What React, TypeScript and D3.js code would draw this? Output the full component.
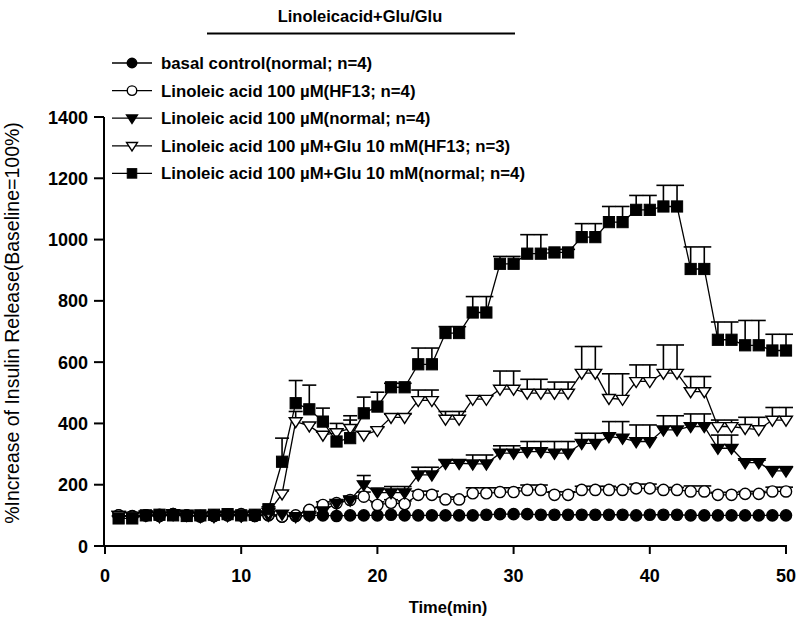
import React from 'react';
import { scaleLinear, line } from 'd3';

const W = 799;
const H = 623;
const m = { left: 105, right: 786, top: 117, bottom: 546 };

const minutes = [
  1, 2, 3, 4, 5, 6, 7, 8, 9, 10, 11, 12, 13, 14, 15, 16, 17, 18, 19, 20, 21, 22, 23, 24, 25,
  26, 27, 28, 29, 30, 31, 32, 33, 34, 35, 36, 37, 38, 39, 40, 41, 42, 43, 44, 45, 46, 47, 48, 49, 50,
];

// basal control (normal; n=4)
const basal = [
  100, 98, 100, 102, 104, 100, 98, 100, 102, 100, 98, 100,
  96, 98, 100, 100, 98, 100, 100, 100, 102, 100, 100, 100, 100, 100, 100, 102, 104, 104,
  104, 102, 102, 102, 102, 102, 102, 102, 100, 102, 102, 102, 100, 100, 100, 100, 100, 100, 100, 100,
];
const basalErr = [
  0, 0, 0, 0, 0, 0, 0, 0, 0, 0, 0, 0, 0, 0, 0, 0, 0, 0, 0, 0, 0, 0, 0, 0, 0,
  0, 0, 0, 0, 0, 0, 0, 0, 0, 0, 0, 0, 0, 0, 0, 0, 0, 0, 0, 0, 0, 0, 0, 0, 0,
];

// Linoleic acid 100 uM (HF13; n=4)
const laHF = [
  100, 96, 100, 98, 104, 100, 96, 98, 100, 104, 100, 102,
  96, 100, 118, 134, 140, 150, 161, 134, 141, 137, 167, 167, 152, 152, 172, 172, 176, 176,
  183, 183, 167, 167, 183, 183, 183, 183, 188, 188, 183, 183, 178, 178, 167, 167, 170, 170, 178, 178,
];
const laHFErr = [
  5, 5, 5, 5, 5, 5, 5, 5, 5, 5, 5, 5,
  5, 5, 5, 10, 8, 10, 15, 10, 10, 10, 12, 12, 8, 8, 18, 18, 14, 14,
  16, 16, 10, 10, 12, 12, 12, 8, 14, 14, 8, 8, 18, 18, 8, 8, 8, 8, 14, 14,
];

// Linoleic acid 100 uM (normal; n=4)
const laNormal = [
  100, 96, 102, 98, 106, 104, 96, 100, 100, 98, 102, 100,
  104, 96, 100, 115, 139, 150, 200, 174, 174, 174, 232, 232, 270, 270, 268, 268, 303, 303,
  308, 308, 303, 303, 335, 335, 357, 352, 341, 341, 379, 379, 390, 390, 319, 319, 272, 272, 245, 245,
];
const laNormalErr = [
  5, 5, 5, 5, 5, 5, 5, 5, 5, 5, 5, 5,
  5, 5, 5, 5, 10, 13, 30, 15, 20, 20, 25, 25, 10, 10, 29, 29, 24, 24,
  33, 33, 38, 38, 33, 33, 49, 54, 54, 54, 46, 46, 41, 41, 43, 43, 8, 8, 14, 14,
];

// Linoleic acid 100 uM + Glu 10 mM (HF13; n=3)
const laGluHF = [
  100, 98, 100, 96, 102, 100, 98, 96, 100, 98, 100, 110,
  170, 406, 392, 362, 370, 384, 362, 377, 420, 420, 475, 475, 414, 414, 479, 479, 512, 512,
  499, 499, 499, 499, 564, 564, 482, 479, 537, 537, 564, 564, 504, 504, 390, 390, 384, 380, 411, 411,
];
const laGluHFErr = [
  5, 5, 5, 5, 5, 5, 5, 5, 5, 5, 5, 5,
  10, 33, 10, 10, 30, 27, 10, 10, 10, 10, 34, 34, 25, 25, 10, 10, 59, 59,
  45, 45, 36, 36, 87, 87, 80, 83, 54, 54, 92, 92, 49, 49, 21, 21, 36, 40, 41, 41,
];

// Linoleic acid 100 uM + Glu 10 mM (normal; n=4)
const laGluNormal = [
  90, 90, 100, 102, 100, 98, 100, 102, 104, 100, 102, 120,
  275, 466, 446, 406, 341, 352, 433, 455, 518, 518, 593, 593, 695, 695, 762, 762, 921, 921,
  954, 954, 958, 958, 1008, 1008, 1057, 1057, 1097, 1097, 1108, 1108, 904, 904, 673, 673, 655, 655, 638, 638,
];
const laGluNormalErr = [
  8, 8, 8, 8, 8, 8, 8, 8, 8, 8, 8, 8,
  77, 74, 79, 44, 40, 73, 53, 47, 13, 13, 53, 53, 21, 21, 52, 52, 24, 24,
  62, 62, 10, 10, 44, 44, 51, 51, 47, 47, 69, 69, 72, 72, 58, 58, 81, 81, 53, 53,
];

const legendLabels = [
  'basal control(normal; n=4)',
  'Linoleic acid 100 \u00b5M(HF13; n=4)',
  'Linoleic acid 100 \u00b5M(normal; n=4)',
  'Linoleic acid 100 \u00b5M+Glu 10 mM(HF13; n=3)',
  'Linoleic acid 100 \u00b5M+Glu 10 mM(normal; n=4)',
];

const xTicks = [0, 10, 20, 30, 40, 50];
const yTicks = [0, 200, 400, 600, 800, 1000, 1200, 1400];

type Shape = 'circle' | 'square' | 'tri';
const series = [
  { values: basal, err: basalErr, shape: 'circle' as Shape, filled: true },
  { values: laHF, err: laHFErr, shape: 'circle' as Shape, filled: false },
  { values: laNormal, err: laNormalErr, shape: 'tri' as Shape, filled: true },
  { values: laGluHF, err: laGluHFErr, shape: 'tri' as Shape, filled: false },
  { values: laGluNormal, err: laGluNormalErr, shape: 'square' as Shape, filled: true },
];

const x = scaleLinear().domain([0, 50]).range([m.left, m.right]);
const y = scaleLinear().domain([0, 1400]).range([m.bottom, m.top]);

const font = '"Liberation Sans", Arial, sans-serif';

function Marker({ cx, cy, shape, filled, s = 1 }: { cx: number; cy: number; shape: Shape; filled: boolean; s?: number }) {
  const fill = filled ? '#000' : '#fff';
  if (shape === 'circle') {
    return <circle cx={cx} cy={cy} r={5.6 * s} fill={fill} stroke="#000" strokeWidth={1.4} />;
  }
  if (shape === 'square') {
    const h = 5.6 * s;
    return <rect x={cx - h} y={cy - h} width={2 * h} height={2 * h} fill={fill} stroke="#000" strokeWidth={1} />;
  }
  const a = 6.4 * s;
  const d = `M${cx - a},${cy - a * 0.6}L${cx + a},${cy - a * 0.6}L${cx},${cy + a * 0.95}Z`;
  return <path d={d} fill={fill} stroke="#000" strokeWidth={1.4} strokeLinejoin="miter" />;
}

const App = () => {
  const path = line<number>()
    .x((_, i) => x(minutes[i]))
    .y((v) => y(v));

  return (
    <svg width={W} height={H} style={{ position: 'absolute', left: 0, top: 0, background: '#fff' }} fontFamily={font}>
      {/* treatment bar */}
      <text x={360} y={22} textAnchor="middle" fontSize={16.5} fontWeight="bold">
        Linoleicacid+Glu/Glu
      </text>
      <line x1={207} x2={515} y1={33.5} y2={33.5} stroke="#000" strokeWidth={2} />

      {/* legend */}
      {legendLabels.map((lab, i) => {
        const ly = 63 + i * 27.6;
        const s = series[i];
        return (
          <g key={lab}>
            <line x1={112} x2={152} y1={ly} y2={ly} stroke="#000" strokeWidth={1.3} />
            <Marker cx={132} cy={ly} shape={s.shape} filled={s.filled} s={0.85} />
            <text x={161} y={ly + 6} fontSize={16.8} fontWeight="bold">
              {lab}
            </text>
          </g>
        );
      })}

      {/* axes */}
      <line x1={m.left - 1} x2={m.left - 1} y1={m.top} y2={m.bottom + 1} stroke="#000" strokeWidth={2} />
      <line x1={m.left - 1} x2={m.right + 1} y1={m.bottom} y2={m.bottom} stroke="#000" strokeWidth={2} />
      {yTicks.map((t) => (
        <g key={t}>
          <line x1={m.left - 11} x2={m.left - 1} y1={y(t)} y2={y(t)} stroke="#000" strokeWidth={2} />
          <text x={m.left - 17} y={y(t) + 6.5} textAnchor="end" fontSize={18} fontWeight="bold">
            {t}
          </text>
        </g>
      ))}
      {xTicks.map((t) => (
        <g key={t}>
          <line x1={x(t)} x2={x(t)} y1={m.bottom} y2={m.bottom + 8} stroke="#000" strokeWidth={2} />
          <text x={x(t)} y={582} textAnchor="middle" fontSize={18} fontWeight="bold">
            {t}
          </text>
        </g>
      ))}
      <text x={448} y={613} textAnchor="middle" fontSize={16.5} fontWeight="bold">
        Time(min)
      </text>
      <text
        transform={`translate(19,${323}) rotate(-90)`}
        textAnchor="middle"
        fontSize={19.5}
      >
        %Increase of Insulin Release(Baseline=100%)
      </text>

      {/* series lines */}
      {series.map((s, k) => (
        <path key={`l${k}`} d={path(s.values) || ''} fill="none" stroke="#000" strokeWidth={1.3} />
      ))}

      {/* error bars */}
      {series.map((s, k) =>
        s.values.map((v, i) =>
          s.err[i] > 6 ? (
            <g key={`e${k}-${i}`} stroke="#000" strokeWidth={1.6}>
              <line x1={x(minutes[i])} x2={x(minutes[i])} y1={y(v)} y2={y(v + s.err[i])} />
              <line x1={x(minutes[i]) - 7} x2={x(minutes[i]) + 7} y1={y(v + s.err[i])} y2={y(v + s.err[i])} />
            </g>
          ) : null
        )
      )}

      {/* markers */}
      {series.map((s, k) =>
        s.values.map((v, i) => (
          <Marker key={`m${k}-${i}`} cx={x(minutes[i])} cy={y(v)} shape={s.shape} filled={s.filled} />
        ))
      )}
    </svg>
  );
};

export default App;
